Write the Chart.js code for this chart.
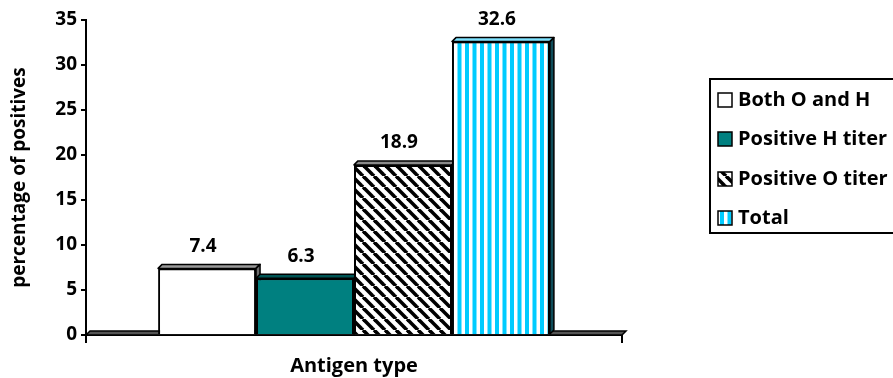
<!DOCTYPE html>
<html>
<head>
<meta charset="utf-8">
<script src="https://cdn.jsdelivr.net/npm/chart.js@4"></script>
<style>
  html, body { margin: 0; padding: 0; background: #fff; }
  #wrap { width: 893px; height: 378px; }
</style>
</head>
<body>
<div id="wrap"><canvas id="c" width="893" height="378"></canvas></div>
<script>
// ---- data ----
const categories = ['Antigen type'];
const seriesNames = ['Both O and H', 'Positive H titer', 'Positive O titer', 'Total'];
const bothOH = [7.4];
const positiveH = [6.3];
const positiveO = [18.9];
const total = [32.6];
const yTicks = [0, 5, 10, 15, 20, 25, 30, 35];

const FONT = '"Open Sans", Lato, sans-serif';
const DEPTH = 4; // 3D offset of bar tops / sides

// ---- fill patterns ----
function hatchPattern() {
  const s = 11;
  const c = document.createElement('canvas');
  c.width = s; c.height = s;
  const g = c.getContext('2d');
  g.fillStyle = '#fff';
  g.fillRect(0, 0, s, s);
  g.strokeStyle = '#000';
  g.lineWidth = 3.6;
  for (const o of [-s, 0, s]) {
    g.beginPath();
    g.moveTo(o, 0);
    g.lineTo(o + s, s);
    g.stroke();
  }
  return g.createPattern(c, 'repeat');
}
function stripePattern() {
  const c = document.createElement('canvas');
  c.width = 15; c.height = 4;
  const g = c.getContext('2d');
  g.fillStyle = '#fff';
  g.fillRect(0, 0, 15, 4);
  g.fillStyle = '#00CCFF';
  g.fillRect(0, 0, 4, 4);
  g.fillRect(7.5, 0, 4, 4);
  return g.createPattern(c, 'repeat');
}

const hatch = hatchPattern();
const stripes = stripePattern();

const fills = ['#ffffff', '#008080', hatch, stripes];
const topFaces = ['#9a9a9a', '#005454', '#8a8a8a', '#7fe3ff'];
const sideFaces = ['#6e6e6e', '#003c3c', '#444444', '#0f4d5a'];
const seriesValues = [bothOH, positiveH, positiveO, total];

// ---- plugins ----
const floorPlugin = {
  id: 'floor3d',
  beforeDatasetsDraw(chart) {
    const { ctx, chartArea: a } = chart;
    ctx.save();
    ctx.beginPath();
    ctx.moveTo(a.left, a.bottom);
    ctx.lineTo(a.left + DEPTH, a.bottom - DEPTH);
    ctx.lineTo(a.right + DEPTH, a.bottom - DEPTH);
    ctx.lineTo(a.right, a.bottom);
    ctx.closePath();
    ctx.fillStyle = '#555';
    ctx.fill();
    ctx.lineWidth = 1.5;
    ctx.strokeStyle = '#000';
    ctx.stroke();
    ctx.restore();
  }
};

function drawFaces(ctx, el, topColor, sideColor) {
  const { x, y, base, width } = el.getProps(['x', 'y', 'base', 'width'], true);
  const l = x - width / 2, r = x + width / 2;
  ctx.save();
  ctx.lineWidth = 1.5;
  ctx.strokeStyle = '#000';
  ctx.lineJoin = 'round';
  ctx.beginPath();
  ctx.moveTo(l, y);
  ctx.lineTo(l + DEPTH, y - DEPTH);
  ctx.lineTo(r + DEPTH, y - DEPTH);
  ctx.lineTo(r, y);
  ctx.closePath();
  ctx.fillStyle = topColor;
  ctx.fill();
  ctx.stroke();
  ctx.beginPath();
  ctx.moveTo(r, y);
  ctx.lineTo(r + DEPTH, y - DEPTH);
  ctx.lineTo(r + DEPTH, base - DEPTH);
  ctx.lineTo(r, base);
  ctx.closePath();
  ctx.fillStyle = sideColor;
  ctx.fill();
  ctx.stroke();
  ctx.restore();
}

const barsPlugin = {
  id: 'bars3d',
  afterDatasetsDraw(chart) {
    const { ctx } = chart;
    const n = chart.data.datasets.length;
    for (let i = 0; i < n; i++) {
      const meta = chart.getDatasetMeta(i);
      meta.data.forEach(el => drawFaces(ctx, el, topFaces[i], sideFaces[i]));
      if (i + 1 < n) {
        chart.getDatasetMeta(i + 1).data.forEach(el => el.draw(ctx));
      }
    }
    // value labels
    ctx.save();
    ctx.font = 'bold 19px ' + FONT;
    ctx.fillStyle = '#000';
    ctx.textAlign = 'center';
    ctx.textBaseline = 'middle';
    for (let i = 0; i < n; i++) {
      const meta = chart.getDatasetMeta(i);
      meta.data.forEach((el, j) => {
        const v = chart.data.datasets[i].data[j];
        ctx.fillText(v.toFixed(1), el.x - 4, el.y - 22);
      });
    }
    ctx.restore();
  }
};

const legendPlugin = {
  id: 'boxLegend',
  afterDraw(chart) {
    const { ctx } = chart;
    const boxL = 710, boxT = 79, boxB = 233;
    const rows = [100, 139, 179, 218];
    ctx.save();
    ctx.lineWidth = 2;
    ctx.strokeStyle = '#000';
    ctx.strokeRect(boxL, boxT, 200, boxB - boxT);
    ctx.font = 'bold 20px ' + FONT;
    ctx.textBaseline = 'middle';
    ctx.textAlign = 'left';
    chart.data.datasets.forEach((ds, i) => {
      const cy = rows[i];
      ctx.fillStyle = ds.backgroundColor;
      ctx.fillRect(718, cy - 7, 14, 14);
      ctx.lineWidth = 1.5;
      ctx.strokeRect(718, cy - 7, 14, 14);
      ctx.fillStyle = '#000';
      ctx.fillText(ds.label, 738, cy);
    });
    ctx.restore();
  }
};

// ---- chart ----
new Chart(document.getElementById('c'), {
  type: 'bar',
  data: {
    labels: categories,
    datasets: seriesNames.map((name, i) => ({
      label: name,
      data: seriesValues[i],
      backgroundColor: fills[i],
      borderColor: '#000',
      borderWidth: 2,
      categoryPercentage: 0.731,
      barPercentage: 1
    }))
  },
  options: {
    responsive: false,
    animation: false,
    devicePixelRatio: 1,
    layout: { padding: { top: 20, right: 271, left: 0, bottom: 0 } },
    plugins: {
      legend: { display: false },
      tooltip: { enabled: false }
    },
    scales: {
      x: {
        afterFit(s) { s.height = 43; },
        grid: {
          offset: true,
          drawOnChartArea: false,
          drawTicks: true,
          tickLength: 8,
          color: '#000',
          lineWidth: 2
        },
        border: { display: true, color: '#000', width: 2 },
        ticks: {
          color: '#000',
          padding: 11,
          font: { family: FONT, size: 20, weight: 'bold' }
        }
      },
      y: {
        min: 0,
        max: 35,
        afterFit(s) { s.width = 86; },
        afterBuildTicks(s) { s.ticks = yTicks.map(v => ({ value: v })); },
        grid: {
          drawOnChartArea: false,
          drawTicks: true,
          tickLength: 5,
          color: '#000',
          lineWidth: 2
        },
        border: { display: true, color: '#000', width: 2 },
        ticks: {
          color: '#000',
          padding: 4,
          font: { family: FONT, size: 19, weight: 'bold' }
        },
        title: {
          display: true,
          text: 'percentage of positives',
          color: '#000',
          padding: { top: 8, bottom: 0 },
          font: { family: FONT, size: 19, weight: 'bold' }
        }
      }
    }
  },
  plugins: [floorPlugin, barsPlugin, legendPlugin]
});
</script>
</body>
</html>
